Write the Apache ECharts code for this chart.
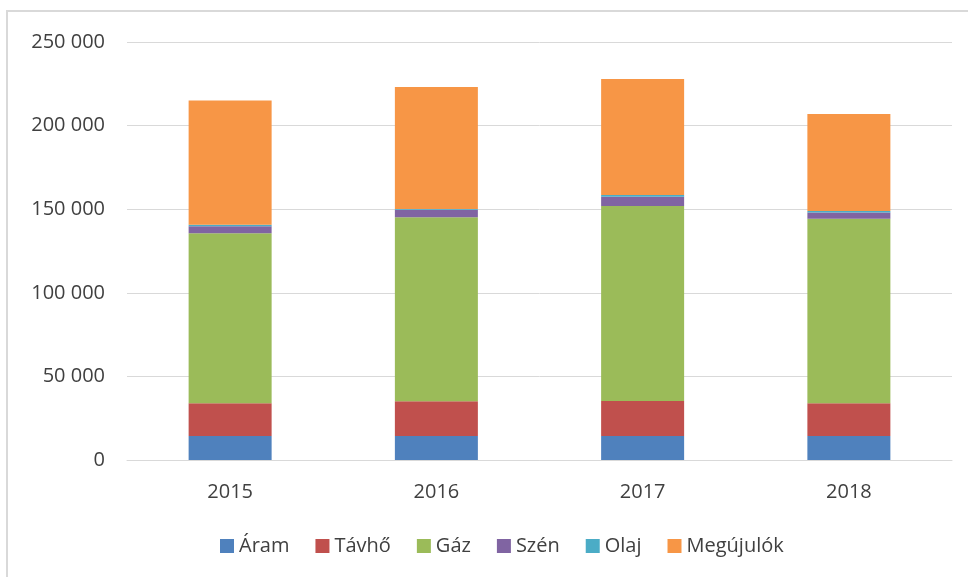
<!DOCTYPE html>
<html>
<head>
<meta charset="utf-8">
<script src="https://cdn.jsdelivr.net/npm/echarts@6/dist/echarts.min.js"></script>
<style>
  html, body { margin: 0; padding: 0; background: #fff; }
  #chart { width: 968px; height: 577px; }
</style>
</head>
<body>
<div id="chart"></div>
<script>
// évek
const years = ['2015', '2016', '2017', '2018'];
// adatok (becsült értékek)
const aram = [14400, 14400, 14400, 14400];
const tavho = [19500, 20700, 20900, 19500];
const gaz = [101700, 110100, 116600, 110400];
const szen = [4200, 4500, 5600, 3800];
const olaj = [900, 400, 1000, 800];
const megujulok = [74300, 73000, 69400, 58000];

const names = ['Áram', 'Távhő', 'Gáz', 'Szén', 'Olaj', 'Megújulók'];
const colors = ['#4F81BD', '#C0504D', '#9BBB59', '#8064A2', '#4BACC6', '#F79646'];
const values = [aram, tavho, gaz, szen, olaj, megujulok];

const chart = echarts.init(document.getElementById('chart'));
const fontFamily = '"Open Sans", sans-serif';

const option = {
  animation: false,
  color: colors,
  textStyle: { fontFamily: fontFamily },
  graphic: [{
    type: 'rect',
    shape: { x: 7, y: 11, width: 1000, height: 700 },
    style: { fill: 'none', stroke: '#d9d9d9', lineWidth: 2 },
    silent: true
  }],
  grid: { left: 127, right: 16, top: 42, bottom: 117 },
  legend: {
    bottom: 16,
    left: 215,
    itemWidth: 14,
    itemHeight: 14,
    itemGap: 26,
    icon: 'rect',
    textStyle: { color: '#404040', fontSize: 20, fontFamily: fontFamily },
    data: names
  },
  xAxis: {
    type: 'category',
    data: years,
    axisLine: { lineStyle: { color: '#d9d9d9', width: 1 } },
    axisTick: { show: false },
    axisLabel: { color: '#404040', fontSize: 20, margin: 22 }
  },
  yAxis: {
    type: 'value',
    min: 0,
    max: 250000,
    interval: 50000,
    axisLine: { show: false },
    axisTick: { show: false },
    splitLine: { lineStyle: { color: '#d9d9d9', width: 1 } },
    axisLabel: {
      color: '#404040',
      fontSize: 20,
      margin: 22,
      formatter: function (v) {
        return v === 0 ? '0' : String(v).replace(/\B(?=(\d{3})+(?!\d))/g, ' ');
      }
    }
  },
  series: names.map(function (n, i) {
    return {
      name: n,
      type: 'bar',
      stack: 'total',
      barWidth: 83,
      data: values[i],
      itemStyle: { color: colors[i] }
    };
  })
};

chart.setOption(option);
</script>
</body>
</html>
